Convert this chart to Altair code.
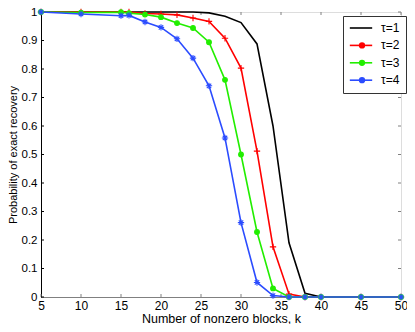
import altair as alt
import pandas as pd

k_values = [5, 10, 15, 16, 18, 20, 22, 24, 26, 28, 30, 32, 34, 36, 38, 40, 45, 50]
tau1 = [1.0, 1.0, 1.0, 1.0, 1.0, 1.0, 1.0, 1.0, 0.997, 0.985, 0.963, 0.888, 0.60, 0.19, 0.013, 0.0, 0.0, 0.0]
tau2 = [1.0, 1.0, 1.0, 1.0, 0.995, 0.993, 0.99, 0.979, 0.967, 0.908, 0.803, 0.512, 0.176, 0.01, 0.0, 0.0, 0.0, 0.0]
tau3 = [1.0, 0.998, 0.999, 0.996, 0.991, 0.982, 0.961, 0.944, 0.894, 0.762, 0.50, 0.228, 0.03, 0.0, 0.0, 0.0, 0.0, 0.0]
tau4 = [1.0, 0.993, 0.987, 0.988, 0.965, 0.946, 0.906, 0.838, 0.741, 0.558, 0.261, 0.051, 0.005, 0.0, 0.0, 0.0, 0.0, 0.0]

series_names = ["τ=1", "τ=2", "τ=3", "τ=4"]
series_colors = ["#000000", "#ff0000", "#22ee00", "#2b4cff"]
marker_paths = [
    "M-1,0L1,0M0,-1L0,1",
    "M-0.75,0A0.75,0.75,0,1,0,0.75,0A0.75,0.75,0,1,0,-0.75,0Z",
    "M-1,0L1,0M0,-1L0,1M-0.7,-0.7L0.7,0.7M-0.7,0.7L0.7,-0.7",
]

x_ticks = [5, 10, 15, 20, 25, 30, 35, 40, 45, 50]
y_ticks = [0, 0.1, 0.2, 0.3, 0.4, 0.5, 0.6, 0.7, 0.8, 0.9, 1.0]

rows = []
for name, vals in zip(series_names, [tau1, tau2, tau3, tau4]):
    for kk, v in zip(k_values, vals):
        rows.append({"k": kk, "p": v, "series": name})
df = pd.DataFrame(rows)

FONT = "Liberation Sans"
W, H = 360, 285
GRAY = "#808080"

xscale = alt.Scale(domain=[5, 50], nice=False, zero=False)
yscale = alt.Scale(domain=[0, 1], nice=False, zero=False)

x_axis = alt.Axis(values=x_ticks, title="Number of nonzero blocks, k", grid=False, ticks=False,
                  domainColor=GRAY, labelPadding=3, labelFlush=False, labelOverlap=False,
                  labelFont=FONT, labelFontSize=12, labelColor="#000000",
                  titleFont=FONT, titleFontSize=12.5, titleFontWeight="normal", titleColor="#000000",
                  titleY=25, titleBaseline="alphabetic")
y_axis = alt.Axis(values=y_ticks, format=".1~f", title="Probability of exact recovery", grid=False,
                  ticks=False, domainColor="#000000", labelPadding=4, labelFlush=False, labelOverlap=False,
                  labelFont=FONT, labelFontSize=11.5, labelColor="#000000",
                  titleFont=FONT, titleFontSize=11, titleFontWeight="normal", titleColor="#000000",
                  titleX=-23)

X = alt.X("k:Q", scale=xscale, axis=x_axis)
Y = alt.Y("p:Q", scale=yscale, axis=y_axis)

LX, LY = 302, 4
ROWPAD = 5.4
line_legend = alt.Legend(title=None, orient="none", legendX=LX, legendY=LY,
                         symbolType="M-2.5,0L2.5,0", symbolSize=80, symbolStrokeWidth=1.6,
                         labelFont=FONT, labelFontSize=12, labelColor="#000000",
                         strokeColor="#333333", fillColor="#ffffff", padding=6, rowPadding=ROWPAD,
                         labelOffset=14, symbolOffset=6)

marker_legend = alt.Legend(title=None, orient="none", legendX=LX + 1, legendY=LY + 12 + ROWPAD,
                           symbolSize=40, symbolStrokeWidth=1.1,
                           labelFont=FONT, labelFontSize=12, labelOpacity=0,
                           padding=6, rowPadding=ROWPAD, labelOffset=14, symbolOffset=6)

base = alt.Chart(df)

lines = base.mark_line(strokeWidth=1.6).encode(
    x=X, y=Y,
    color=alt.Color("series:N", scale=alt.Scale(domain=series_names, range=series_colors), legend=line_legend),
)

marker_domain = series_names[1:]
marker_colors = series_colors[1:]
points = base.transform_filter(alt.datum.series != "τ=1").mark_point(filled=True, strokeWidth=1.1, opacity=1).encode(
    x=X, y=Y,
    color=alt.Color("series:N", scale=alt.Scale(domain=marker_domain, range=marker_colors), legend=marker_legend),
    stroke=alt.Stroke("series:N", scale=alt.Scale(domain=marker_domain, range=marker_colors), legend=marker_legend),
    shape=alt.Shape("series:N", scale=alt.Scale(domain=marker_domain, range=marker_paths), legend=marker_legend),
    size=alt.value(40),
)

xt = pd.DataFrame({"k": x_ticks})
yt = pd.DataFrame({"p": y_ticks})

xt_bottom = alt.Chart(xt).mark_rule(color=GRAY, strokeWidth=1).encode(x=X, y=alt.value(H), y2=alt.value(H - 3))
xt_top = alt.Chart(xt).mark_rule(color=GRAY, strokeWidth=1).encode(x=X, y=alt.value(0), y2=alt.value(3))
yt_left = alt.Chart(yt).mark_rule(color="#000000", strokeWidth=1).encode(y=Y, x=alt.value(0), x2=alt.value(3))
yt_right = alt.Chart(yt).mark_rule(color=GRAY, strokeWidth=1).encode(y=Y, x=alt.value(W), x2=alt.value(W - 3))

chart = alt.layer(xt_bottom, xt_top, yt_left, yt_right, lines, points).resolve_scale(
    color="independent"
).resolve_legend(color="independent").properties(
    width=W, height=H,
    autosize=alt.AutoSizeParams(type="none"),
    padding={"left": 33, "top": 4, "right": 6, "bottom": 27},
).configure_view(stroke=GRAY, strokeWidth=1).configure(background="#ffffff")

chart.save("out.html", embed_options={"renderer": "svg", "actions": False})
